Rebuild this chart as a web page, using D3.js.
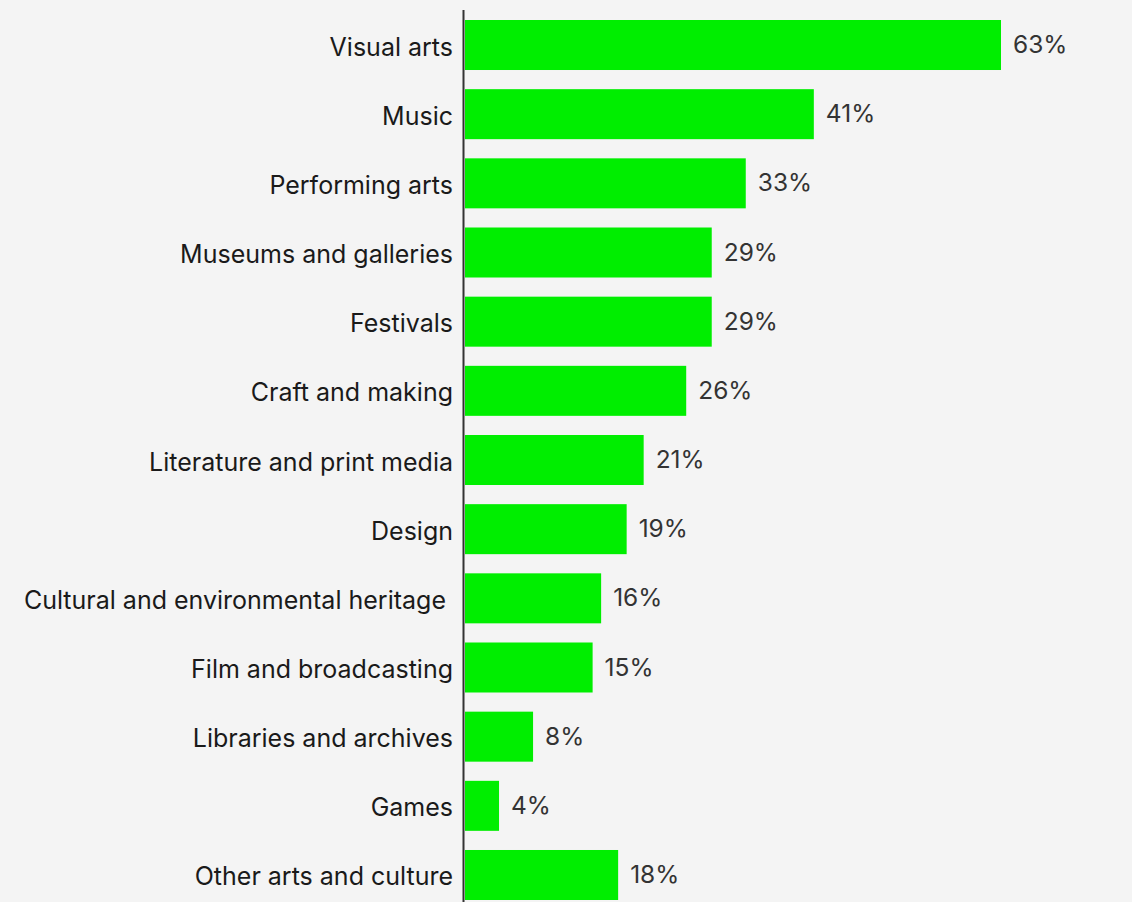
<!DOCTYPE html>
<html>
<head>
<meta charset="utf-8">
<script src="https://cdn.jsdelivr.net/npm/d3@7"></script>
<style>
  html, body { margin: 0; padding: 0; background: #f4f4f4; }
  svg { display: block; }
</style>
</head>
<body>
<svg id="chart" width="1132" height="902"></svg>
<script>
// Share of respondents by art form (%)
const categories = [
  "Visual arts",
  "Music",
  "Performing arts",
  "Museums and galleries",
  "Festivals",
  "Craft and making",
  "Literature and print media",
  "Design",
  "Cultural and environmental heritage\u00a0",
  "Film and broadcasting",
  "Libraries and archives",
  "Games",
  "Other arts and culture"
];
const values = [63, 41, 33, 29, 29, 26, 21, 19, 16, 15, 8, 4, 18];

const svg = d3.select("#chart");
const W = 1132, H = 902;
const font = "Inter, 'Noto Sans', sans-serif";

svg.append("rect").attr("width", W).attr("height", H).attr("fill", "#f4f4f4");

const x = d3.scaleLinear().domain([0, 63]).range([465, 1001]);
const y = d3.scaleBand().domain(categories).range([20, 900])
  .paddingInner(0.277).paddingOuter(0);

// bars
svg.append("g").selectAll("rect")
  .data(categories)
  .join("rect")
  .attr("x", x(0))
  .attr("y", d => y(d))
  .attr("width", (d, i) => x(values[i]) - x(0))
  .attr("height", y.bandwidth())
  .attr("fill", "#00ee00");

// value labels
svg.append("g").selectAll("text")
  .data(categories)
  .join("text")
  .attr("x", (d, i) => x(values[i]) + 12)
  .attr("y", d => y(d) + y.bandwidth() / 2)
  .attr("dy", "0.33em")
  .attr("font-family", font)
  .attr("font-size", 24.5)
  .attr("fill", "#333")
  .text((d, i) => values[i] + "%");

// category axis
const axis = svg.append("g")
  .attr("transform", `translate(${x(0) - 1},0)`)
  .call(d3.axisLeft(y).tickSize(0).tickPadding(11));
axis.select(".domain").remove();
axis.selectAll("text")
  .attr("font-family", font)
  .attr("font-size", 25)
  .attr("fill", "#1a1a1a")
  .attr("dy", "0.42em")
  .style("white-space", "pre");

svg.append("line")
  .attr("x1", x(0) - 1.5).attr("x2", x(0) - 1.5)
  .attr("y1", 10).attr("y2", H)
  .attr("stroke", "#333")
  .attr("stroke-width", 2);
</script>
</body>
</html>
